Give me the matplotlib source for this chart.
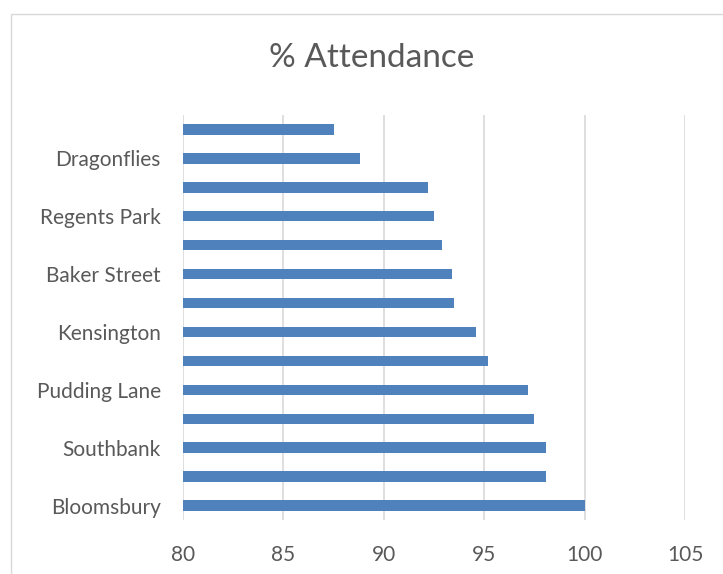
#!/usr/bin/env python3
"""Horizontal bar chart of % attendance per group, Excel style."""

import matplotlib.pyplot as plt
from matplotlib.patches import Rectangle

# bottom to top; blank names are categories Excel left unlabelled
groups = ["Bloomsbury", "", "Southbank", "", "Pudding Lane", "", "Kensington",
          "", "Baker Street", "", "Regents Park", "", "Dragonflies", ""]
attendance = [100.0, 98.1, 98.1, 97.5, 97.2, 95.2, 94.6,
              93.5, 93.4, 92.9, 92.5, 92.2, 88.8, 87.5]
x_ticks = [80, 85, 90, 95, 100, 105]

TEXT = "#595959"
GRID = "#D9D9D9"

plt.rcParams["font.family"] = ["Lato", "DejaVu Sans"]

fig = plt.figure(figsize=(7.23, 5.74), dpi=100)
ax = fig.add_axes([183 / 723, 1 - 520 / 574, 502 / 723, 405 / 574])

positions = range(len(groups))
ax.barh(positions, [v - x_ticks[0] for v in attendance], left=x_ticks[0],
        height=0.36, color="#4F81BD", zorder=3)

ax.set_xlim(x_ticks[0], x_ticks[-1])
ax.set_ylim(-0.5, len(groups) - 0.5)
ax.set_xticks(x_ticks)
ax.set_yticks([i for i, name in enumerate(groups) if name])
ax.set_yticklabels([name for name in groups if name])
ax.grid(axis="x", color=GRID, linewidth=1.2, zorder=0)
ax.tick_params(length=0, labelsize=15, labelcolor=TEXT)
ax.tick_params(axis="y", pad=16)
ax.tick_params(axis="x", pad=18)
for spine in ax.spines.values():
    spine.set_visible(False)

fig.text(372 / 723, 1 - 58 / 574, "% Attendance", ha="center", va="center",
         fontsize=24, color=TEXT)
fig.patches.append(Rectangle((11 / 723, -0.1), 1.2, 1.1 - 14 / 574,
                             transform=fig.transFigure, fill=False,
                             edgecolor=GRID, linewidth=1.0))

fig.savefig("out.png", dpi=100)
